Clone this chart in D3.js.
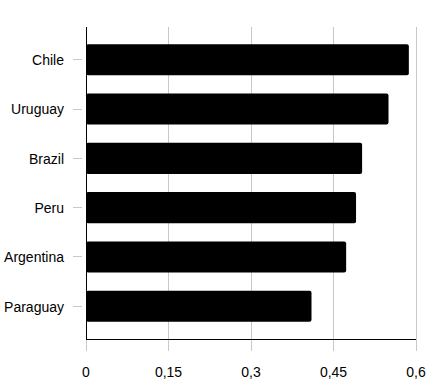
<!DOCTYPE html>
<html lang="en">
  <head>
    <meta charset="utf-8" />
    <title>bar chart</title>
    <script type="text/javascript" src="https://d3js.org/d3.v7.min.js"></script>
    <style>
      body { margin: 0; background: #fff; }
      text { font-family: "Liberation Sans", Arial, sans-serif; }
    </style>
  </head>
  <body>
    <div id="chart"></div>
    <script type="text/javascript">
      /*****************
       * data
       *****************/
      const countries = ["Chile", "Uruguay", "Brazil", "Peru", "Argentina", "Paraguay"];
      const values = [0.587, 0.55, 0.502, 0.491, 0.473, 0.41];
      const xTicks = [0, 0.15, 0.3, 0.45, 0.6];
      const xTickLabels = ["0", "0,15", "0,3", "0,45", "0,6"];

      /*****************
       * svg
       *****************/
      const width = 428;
      const height = 386;
      const plotLeft = 86, plotRight = 416, plotTop = 27, plotBottom = 339;

      const svg = d3
        .select("div#chart")
        .append("svg")
        .attr("width", width)
        .attr("height", height);

      const x = d3.scaleLinear().domain([0, 0.6]).range([plotLeft, plotRight]);
      const y = d3
        .scaleBand()
        .domain(countries)
        .range([plotTop, plotBottom])
        .paddingInner(0.37)
        .paddingOuter(0.35);

      // grid lines + x tick marks
      svg
        .selectAll("line.grid")
        .data(xTicks.slice(1))
        .enter()
        .append("line")
        .attr("class", "grid")
        .attr("x1", (d) => x(d))
        .attr("x2", (d) => x(d))
        .attr("y1", plotTop)
        .attr("y2", plotBottom + 12)
        .style("stroke", "#c8c8c8")
        .style("stroke-width", 1)
        .attr("shape-rendering", "crispEdges");

      // tick at 0 (below axis)
      svg
        .append("line")
        .attr("x1", x(0))
        .attr("x2", x(0))
        .attr("y1", plotBottom)
        .attr("y2", plotBottom + 12)
        .style("stroke", "#c8c8c8")
        .attr("shape-rendering", "crispEdges");

      // bars
      svg
        .selectAll("rect.bar")
        .data(countries)
        .enter()
        .append("rect")
        .attr("class", "bar")
        .attr("x", x(0))
        .attr("y", (d) => y(d))
        .attr("width", (d, i) => x(values[i]) - x(0))
        .attr("height", y.bandwidth())
        .attr("rx", 2)
        .style("fill", "#000");

      // y tick marks
      svg
        .selectAll("line.ytick")
        .data(countries)
        .enter()
        .append("line")
        .attr("class", "ytick")
        .attr("x1", plotLeft - 13)
        .attr("x2", plotLeft - 4)
        .attr("y1", (d) => y(d) + y.bandwidth() / 2)
        .attr("y2", (d) => y(d) + y.bandwidth() / 2)
        .style("stroke", "#c8c8c8")
        .attr("shape-rendering", "crispEdges");

      // y labels
      svg
        .selectAll("text.ylabel")
        .data(countries)
        .enter()
        .append("text")
        .attr("class", "ylabel")
        .attr("x", plotLeft - 22)
        .attr("y", (d) => y(d) + y.bandwidth() / 2)
        .attr("dy", "0.38em")
        .attr("text-anchor", "end")
        .style("font-size", "14px")
        .style("fill", "#000")
        .text((d) => d);

      // x labels
      svg
        .selectAll("text.xlabel")
        .data(xTicks)
        .enter()
        .append("text")
        .attr("class", "xlabel")
        .attr("x", (d) => x(d))
        .attr("y", plotBottom + 38)
        .attr("text-anchor", "middle")
        .style("font-size", "14px")
        .style("fill", "#000")
        .text((d, i) => xTickLabels[i]);

      // axis lines
      svg
        .append("line")
        .attr("x1", plotLeft)
        .attr("x2", plotLeft)
        .attr("y1", plotTop)
        .attr("y2", plotBottom)
        .style("stroke", "#000")
        .attr("shape-rendering", "crispEdges");
      svg
        .append("line")
        .attr("x1", plotLeft)
        .attr("x2", plotRight)
        .attr("y1", plotBottom)
        .attr("y2", plotBottom)
        .style("stroke", "#000")
        .attr("shape-rendering", "crispEdges");
    </script>
  </body>
</html>
